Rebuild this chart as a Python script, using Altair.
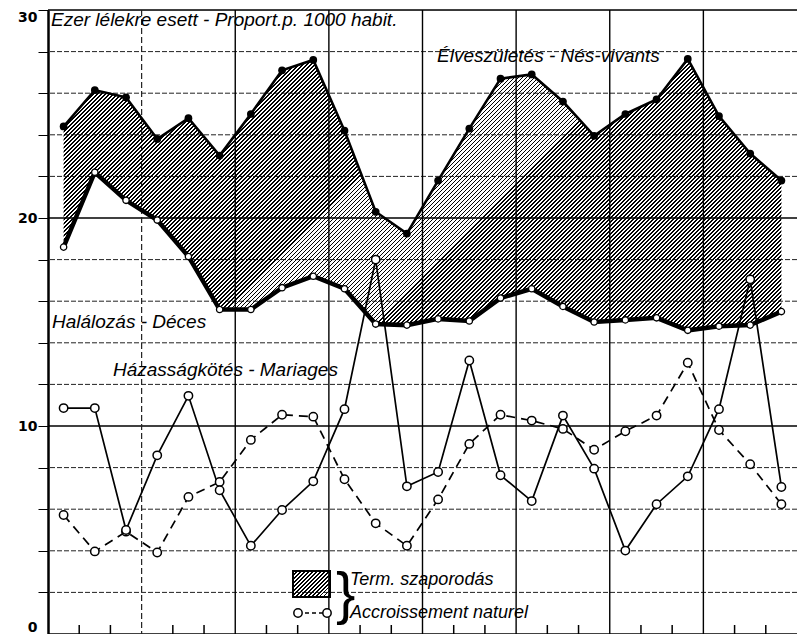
import altair as alt
import pandas as pd

# ---- data (per 1000 inhabitants) ----
idx = list(range(24))
birth = [24.4, 26.15, 25.8, 23.8, 24.8, 23.0, 25.0, 27.1, 27.6, 24.2, 20.3, 19.25,
         21.8, 24.3, 26.7, 26.9, 25.6, 23.95, 25.0, 25.7, 27.65, 24.9, 23.1, 21.8]
death = [18.6, 22.2, 20.85, 19.9, 18.15, 15.6, 15.6, 16.65, 17.2, 16.6, 14.9, 14.85,
         15.15, 15.05, 16.15, 16.6, 15.75, 15.0, 15.1, 15.2, 14.6, 14.8, 14.85, 15.5]
marriage = [10.86, 10.86, 5.0, 8.59, 11.45, 6.91, 4.24, 5.96, 7.34, 10.81, 18.0, 7.1,
            7.79, 13.15, 7.63, 6.39, 10.5, 7.95, 4.01, 6.24, 7.58, 10.81, 17.05, 7.07]
natural = [5.72, 3.97, 4.92, 3.92, 6.59, 7.31, 9.33, 10.54, 10.45, 7.44, 5.32, 4.24,
           6.47, 9.14, 10.54, 10.26, 9.86, 8.86, 9.75, 10.5, 13.04, 9.81, 8.16, 6.24]

minor_h = [2, 4, 6, 8, 12, 14, 16, 18, 22, 24, 26, 28]
major_h = [10, 20]
top_h = [30]
vgrid_dashed = [2.5]
vgrid = [5.5, 8.5, 11.5, 14.5, 17.5, 20.5]
bottom_ticks = [0.5, 1.5, 3.5, 4.5, 6.5, 7.5, 9.5, 10.5, 12.5, 13.5, 15.5, 16.5,
                18.5, 19.5, 21.5, 22.5]

W, H = 749, 624
XDOM = [-0.5, 23.5]
YDOM = [0, 30]

df = pd.DataFrame({"idx": idx, "birth": birth, "death": death,
                   "marriage": marriage, "natural": natural})

FONT = "Liberation Sans Narrow, Liberation Sans, sans-serif"


def hatch(bw, bh, pitch=4.0, frac=0.45):
    r = bh / bw
    k = (1 + r) / (1 + r * r)
    n = int(round((bw + bh) / pitch))
    stops = []
    for i in range(n):
        a = i / n
        b = (i + frac) / n
        c = (i + 1) / n
        stops += [alt.GradientStop(offset=a, color="black"),
                  alt.GradientStop(offset=b, color="black"),
                  alt.GradientStop(offset=b, color="rgba(0,0,0,0)"),
                  alt.GradientStop(offset=c, color="rgba(0,0,0,0)")]
    return alt.Gradient(gradient="linear", stops=stops, x1=0, y1=0, x2=k, y2=k * r)


xscale = alt.Scale(domain=XDOM, nice=False, zero=False)
yscale = alt.Scale(domain=YDOM, nice=False, zero=False)
xaxis = alt.Axis(labels=False, ticks=False, grid=False, title=None,
                 domainWidth=2.5, domainColor="black")
yaxis = alt.Axis(values=list(range(0, 31, 2)),
                 labelExpr="datum.value % 10 == 0 ? datum.label : ''",
                 tickSize=10, tickColor="black", tickWidth=1, grid=False, title=None,
                 domainWidth=2.5, domainColor="black", labelFont="DejaVu Sans",
                 labelFontWeight="bold", labelFontSize=14, labelPadding=1,
                 labelColor="black", labelFlush=True)

X = lambda f: alt.X(f, type="quantitative", scale=xscale, axis=xaxis)
Y = lambda f: alt.Y(f, type="quantitative", scale=yscale, axis=yaxis)

base = alt.Chart(df)

hminor = alt.Chart(pd.DataFrame({"v": minor_h})).mark_rule(
    color="#222", strokeWidth=1, strokeDash=[5, 2]).encode(y=Y("v"))
hmajor = alt.Chart(pd.DataFrame({"v": major_h})).mark_rule(
    color="black", strokeWidth=1.6).encode(y=Y("v"))
htop = alt.Chart(pd.DataFrame({"v": top_h})).mark_rule(
    color="black", strokeWidth=1.6).encode(y=Y("v"))
vdash = alt.Chart(pd.DataFrame({"v": vgrid_dashed})).mark_rule(
    color="#222", strokeWidth=1.2, strokeDash=[6, 3]).encode(x=X("v"))
vsolid = alt.Chart(pd.DataFrame({"v": vgrid})).mark_rule(
    color="black", strokeWidth=1.4).encode(x=X("v"))
bticks = alt.Chart(pd.DataFrame({"v": bottom_ticks})).mark_rule(
    color="black", strokeWidth=1.5).encode(x=X("v"), y=alt.value(H), y2=alt.value(H - 9))

bw = (len(idx) - 1) * W / (XDOM[1] - XDOM[0])
bh = (max(birth) - min(death)) * H / (YDOM[1] - YDOM[0])
area = base.mark_area(fill=hatch(bw, bh), stroke=None).encode(
    x=X("idx"), y=Y("birth"), y2="death")

birth_line = base.mark_line(color="black", strokeWidth=2.6).encode(x=X("idx"), y=Y("birth"))
birth_pts = base.mark_circle(color="black", size=60, opacity=1).encode(x=X("idx"), y=Y("birth"))
death_line = base.mark_line(color="black", strokeWidth=4.5).encode(x=X("idx"), y=Y("death"))
death_pts = base.mark_circle(fill="white", stroke="black", strokeWidth=1.3, size=40,
                             opacity=1).encode(x=X("idx"), y=Y("death"))
mar_line = base.mark_line(color="black", strokeWidth=1.7).encode(x=X("idx"), y=Y("marriage"))
mar_pts = base.mark_circle(fill="white", stroke="black", strokeWidth=1.5, size=70,
                           opacity=1).encode(x=X("idx"), y=Y("marriage"))
nat_line = base.mark_line(color="black", strokeWidth=1.7, strokeDash=[9, 6]).encode(
    x=X("idx"), y=Y("natural"))
nat_pts = base.mark_circle(fill="white", stroke="black", strokeWidth=1.5, size=70,
                           opacity=1).encode(x=X("idx"), y=Y("natural"))


def label(txt, px, py, size=19, align="left", baseline="middle", font=FONT, style="italic"):
    return alt.Chart(pd.DataFrame({"t": [txt]})).mark_text(
        font=font, fontSize=size, fontStyle=style, align=align, baseline=baseline,
        color="black").encode(text="t:N", x=alt.value(px), y=alt.value(py))


texts = [
    label("Ezer lélekre esett - Proport.p. 1000 habit.", 3, 1, size=19, baseline="top"),
    label("Élveszületés - Nés-vivants", 389, 46),
    label("Halálozás - Déces", 4, 312),
    label("Házasságkötés - Mariages", 65, 360),
    label("Term. szaporodás", 302, 570, size=18),
    label("Accroissement naturel", 302, 603, size=18),
    label("}", 288, 586, size=58, style="normal", font="Liberation Sans Narrow, Liberation Sans"),
]

one = pd.DataFrame({"a": [0]})
leg_rect = alt.Chart(one).mark_rect(fill=hatch(37, 26), stroke="black", strokeWidth=2).encode(
    x=alt.value(245), x2=alt.value(282), y=alt.value(561), y2=alt.value(587))
leg_dash = alt.Chart(one).mark_rule(color="black", strokeWidth=1.6, strokeDash=[4, 3]).encode(
    x=alt.value(250), x2=alt.value(279), y=alt.value(603))
leg_p1 = alt.Chart(one).mark_circle(fill="white", stroke="black", strokeWidth=1.5, size=70,
                                    opacity=1).encode(x=alt.value(250), y=alt.value(603))
leg_p2 = alt.Chart(one).mark_circle(fill="white", stroke="black", strokeWidth=1.5, size=70,
                                    opacity=1).encode(x=alt.value(279), y=alt.value(603))

chart = alt.layer(
    hminor, hmajor, htop, vdash, vsolid, bticks,
    area, nat_line, mar_line, death_line, birth_line,
    nat_pts, mar_pts, death_pts, birth_pts,
    leg_rect, leg_dash, leg_p1, leg_p2, *texts
).properties(
    width=W, height=H,
    autosize=alt.AutoSizeParams(type="none"),
    padding={"left": 40, "top": 2, "right": 0, "bottom": 0},
).configure_view(stroke=None).configure(background="white")

chart.save("out.html", embed_options={"renderer": "svg", "actions": False})
